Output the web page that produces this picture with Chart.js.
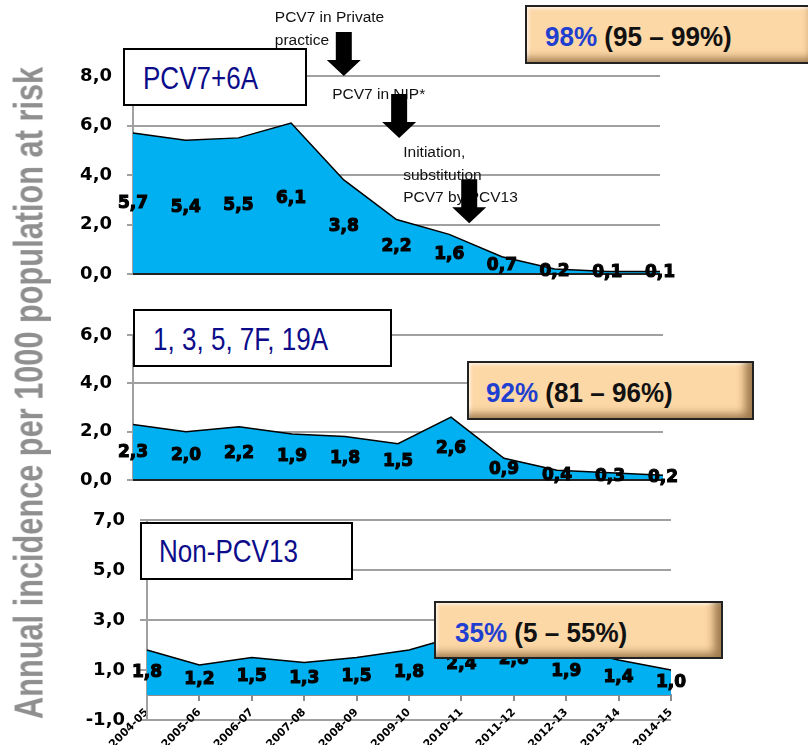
<!DOCTYPE html>
<html>
<head>
<meta charset="utf-8">
<title>Annual incidence per 1000 population at risk</title>
<script src="https://cdn.jsdelivr.net/npm/chart.js@4.4.1/dist/chart.umd.min.js"></script>
<style>
  html, body { margin: 0; padding: 0; background: #fff; }
  body { width: 808px; height: 745px; position: relative; overflow: hidden;
         font-family: "Liberation Sans", Arial, sans-serif; }
  canvas { position: absolute; left: 0; }
  .tag { position: absolute; box-sizing: border-box; background: #fff; border: 2px solid #000; }
  .tagtext { position: absolute; white-space: nowrap; font-size: 31px; line-height: 31px;
             color: #0c0c8a; transform-origin: 0 50%; transform: scaleX(0.84); }
  .pct { position: absolute; box-sizing: border-box; background: #fdd8a7; border: 2px solid #222;
         box-shadow: inset -10px -7px 9px -3px rgba(100, 65, 25, .62), inset 2px 2px 3px rgba(255, 255, 255, .6); }
  .pcttext { position: absolute; white-space: nowrap; font-weight: bold; font-size: 28px; line-height: 28px;
             color: #111; transform-origin: 0 50%; transform: scaleX(0.93); }
  .pcttext span { color: #1f3fd0; }
  #ytitle { position: absolute; white-space: nowrap; font-weight: bold; font-size: 40px; line-height: 40px;
            color: #8f8f8f; transform-origin: 50% 50%; }
</style>
</head>
<body>
<canvas id="panelTop" width="808" height="290" style="top:0"></canvas>
<canvas id="panelMid" width="808" height="205" style="top:290px"></canvas>
<canvas id="panelBot" width="808" height="250" style="top:495px"></canvas>

<div class="tag" style="left:123px;top:48px;width:184px;height:58px"></div>
<div class="tagtext" style="left:143px;top:63px">PCV7+6A</div>

<div class="tag" style="left:133px;top:309px;width:259px;height:58px"></div>
<div class="tagtext" style="left:153px;top:324px">1, 3, 5, 7F, 19A</div>

<div class="tag" style="left:140px;top:522px;width:213px;height:58px"></div>
<div class="tagtext" style="left:159px;top:536px">Non-PCV13</div>

<div class="pct" style="left:525px;top:5px;width:295px;height:59px"></div>
<div class="pcttext" style="left:545px;top:23px"><span>98%</span> (95 – 99%)</div>

<div class="pct" style="left:467px;top:361px;width:287px;height:59px"></div>
<div class="pcttext" style="left:486px;top:379px"><span>92%</span> (81 – 96%)</div>

<div class="pct" style="left:434px;top:601px;width:289px;height:58px"></div>
<div class="pcttext" style="left:455px;top:619px"><span>35%</span> (5 – 55%)</div>

<div id="ytitle">Annual incidence per 1000 population at risk</div>

<script>
// Seasons on the shared x axis
const categories = ['2004-05', '2005-06', '2006-07', '2007-08', '2008-09', '2009-10',
                    '2010-11', '2011-12', '2012-13', '2013-14', '2014-15'];

// Annual incidence per 1000 population at risk, by serotype group
const pcv7Plus6A   = [5.7, 5.4, 5.5, 6.1, 3.8, 2.2, 1.6, 0.7, 0.2, 0.1, 0.1];
const sero1357F19A = [2.3, 2.0, 2.2, 1.9, 1.8, 1.5, 2.6, 0.9, 0.4, 0.3, 0.2];
const nonPcv13     = [1.8, 1.2, 1.5, 1.3, 1.5, 1.8, 2.4, 2.8, 1.9, 1.4, 1.0];

// Y tick values of each panel
const ticksTop = [0, 2, 4, 6, 8];
const ticksMid = [0, 2, 4, 6];
const ticksBot = [-1, 1, 3, 5, 7];

// Vaccine programme milestones: category position and value where the arrow points
const milestones = [
  { at: 4.0,  tip: 8.0,  lines: ['PCV7 in Private', 'practice'],                  dx: -69, dy: -54 },
  { at: 5.05, tip: 5.5,  lines: ['PCV7 in NIP*'],                                 dx: -67, dy: -39 },
  { at: 6.38, tip: 2.05, lines: ['Initiation,', 'substitution', 'PCV7 by PCV13'], dx: -66, dy: -66 }
];

const fmt = v => Number(v).toFixed(1).replace('.', ',');
const tickFont = { family: 'DejaVu Sans', weight: 'bold', size: 18 };
const GRID = '#a0a0a0';
const AXIS_GREY = '#8c8c8c';

// Dark zero line (top panels) and value labels at half the area height
const areaDecor = {
  id: 'areaDecor',
  afterDatasetsDraw(chart, args, opts) {
    const { ctx, chartArea: a, scales: { y } } = chart;
    ctx.save();
    if (opts.axisColor) {
      const y0 = y.getPixelForValue(0);
      ctx.strokeStyle = opts.axisColor;
      ctx.lineWidth = 2;
      ctx.beginPath();
      ctx.moveTo(a.left, y0);
      ctx.lineTo(a.right, y0);
      ctx.stroke();
    }
    const ds = chart.data.datasets[0].data;
    const meta = chart.getDatasetMeta(0);
    ctx.font = 'bold 17px "DejaVu Sans"';
    ctx.textAlign = 'center';
    ctx.textBaseline = 'middle';
    ctx.fillStyle = '#000';
    ctx.strokeStyle = '#000';
    ctx.lineWidth = 1.1;
    meta.data.forEach((pt, i) => {
      const ty = y.getPixelForValue(ds[i] / 2);
      ctx.fillText(fmt(ds[i]), pt.x, ty);
      ctx.strokeText(fmt(ds[i]), pt.x, ty);
    });
    ctx.restore();
  }
};

// Milestone notes and down arrows on the top panel
const milestoneArrows = {
  id: 'milestoneArrows',
  afterDraw(chart, args, opts) {
    const { ctx, scales: { x, y } } = chart;
    ctx.save();
    ctx.font = '15.5px "Liberation Sans", Arial, sans-serif';
    ctx.fillStyle = '#111';
    ctx.textAlign = 'left';
    ctx.textBaseline = 'alphabetic';
    const tips = opts.items.map(m => ({ m, tx: x.getPixelForValue(m.at), ty: y.getPixelForValue(m.tip) }));
    tips.forEach(({ m, tx, ty }) => {
      m.lines.forEach((line, k) => ctx.fillText(line, tx + m.dx, ty + m.dy + k * 22.5));
    });
    ctx.fillStyle = '#000';
    tips.forEach(({ tx, ty }) => {
      ctx.beginPath();
      ctx.moveTo(tx - 8, ty - 44);
      ctx.lineTo(tx + 8, ty - 44);
      ctx.lineTo(tx + 8, ty - 16);
      ctx.lineTo(tx + 17, ty - 16);
      ctx.lineTo(tx, ty);
      ctx.lineTo(tx - 17, ty - 16);
      ctx.lineTo(tx - 8, ty - 16);
      ctx.closePath();
      ctx.fill();
    });
    ctx.restore();
  }
};

function makePanel(id, values, ticks, frame, extra) {
  const step = ticks[1] - ticks[0];
  const xScale = frame.showX ? {
    position: { y: 0 },          // category axis crosses the value axis at zero
    z: 1,
    grid: { display: true, drawOnChartArea: false, drawTicks: true, tickLength: 5, color: AXIS_GREY, lineWidth: 2 },
    border: { display: true, color: AXIS_GREY, width: 2 },
    ticks: {
      autoSkip: false, minRotation: 45, maxRotation: 45, padding: 6,
      color: '#000', font: { family: 'DejaVu Sans', weight: 'bold', size: 11 }
    }
  } : { display: false };

  return new Chart(document.getElementById(id), {
    type: 'line',
    data: {
      labels: categories,
      datasets: [{
        data: values,
        borderColor: '#000',
        borderWidth: 1.5,
        backgroundColor: '#00b0f0',
        fill: 'origin',
        pointRadius: 0,
        tension: 0
      }]
    },
    options: {
      responsive: false,
      animation: false,
      devicePixelRatio: 1,
      layout: { padding: { left: 0, right: frame.right, top: frame.top, bottom: frame.bottom } },
      plugins: {
        legend: { display: false },
        tooltip: { enabled: false },
        areaDecor: { axisColor: frame.axisColor },
        milestoneArrows: { items: milestones }
      },
      scales: {
        x: xScale,
        y: {
          min: ticks[0],
          max: ticks[ticks.length - 1],
          ticks: { stepSize: step, callback: v => fmt(v), color: '#000', font: tickFont, padding: 15 },
          grid: { color: GRID, lineWidth: 2, tickLength: frame.tick },
          border: { color: GRID, width: 2 },
          afterFit(s) { s.width = frame.axisX; s.paddingTop = 0; s.paddingBottom = 0; }
        }
      }
    },
    plugins: extra ? [areaDecor, extra] : [areaDecor]
  });
}

makePanel('panelTop', pcv7Plus6A, ticksTop,
  { axisX: 133, right: 148, top: 76, bottom: 16, tick: 6, axisColor: '#222' }, milestoneArrows);
makePanel('panelMid', sero1357F19A, ticksMid,
  { axisX: 133, right: 145, top: 45, bottom: 15, tick: 6, axisColor: '#222' });
makePanel('panelBot', nonPcv13, ticksBot,
  { axisX: 147, right: 137, top: 25, bottom: 25, tick: 7, axisColor: null, showX: true });

// Shared vertical title, compressed along its length to span the three panels
const title = document.getElementById('ytitle');
const w = title.offsetWidth;
const k = 652 / w;
title.style.left = (28 - w / 2) + 'px';
title.style.top = (393 - 20) + 'px';
title.style.transform = 'rotate(-90deg) scaleX(' + k + ')';
</script>
</body>
</html>
